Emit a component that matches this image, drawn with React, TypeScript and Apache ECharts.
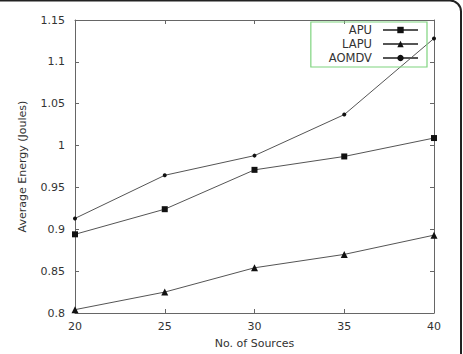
import React, { useEffect, useRef } from "react";
import * as echarts from "echarts";

const sources = [20, 25, 30, 35, 40];
const apu = [0.894, 0.924, 0.971, 0.987, 1.009];
const lapu = [0.804, 0.825, 0.854, 0.87, 0.893];
const aomdv = [0.913, 0.9645, 0.988, 1.037, 1.128];

const FONT = "DejaVu Sans";
const TXT = "#333";
const AX = "#666";

export default function App() {
  const ref = useRef<HTMLDivElement>(null);
  useEffect(() => {
    document.body.style.margin = "0";
    const chart = echarts.init(ref.current!, null, { renderer: "svg" });
    const mk = (arr: number[]) => sources.map((s, i) => [s, arr[i]]);
    const lineStyle = { color: "#555", width: 1 };
    const itemStyle = { color: "#111" };
    chart.setOption({
      animation: false,
      textStyle: { fontFamily: FONT },
      grid: { left: 75, top: 20, right: 29, bottom: 41, show: false },
      legend: {
        orient: "vertical",
        right: 36,
        top: 22,
        align: "right",
        itemWidth: 35,
        itemHeight: 8,
        itemGap: 2,
        padding: [2, 8, 3, 18],
        borderColor: "#7fd47f",
        borderWidth: 1.2,
        textStyle: { fontFamily: FONT, fontSize: 11.5, color: TXT, padding: [0, 6, 0, 0] },
        data: ["APU", "LAPU", "AOMDV"],
      },
      xAxis: [
        {
          type: "value",
          min: 20,
          max: 40,
          interval: 5,
          name: "No. of Sources",
          nameLocation: "middle",
          nameGap: 25,
          nameTextStyle: { fontSize: 11, color: TXT, fontFamily: FONT },
          axisLine: { lineStyle: { color: AX } },
          axisTick: { inside: true, length: 4, lineStyle: { color: AX } },
          axisLabel: { fontSize: 11, color: TXT, margin: 8, fontFamily: FONT },
          splitLine: { show: false },
        },
        {
          type: "value",
          position: "top",
          min: 20,
          max: 40,
          interval: 5,
          axisLine: { show: true, lineStyle: { color: AX } },
          axisTick: { inside: true, length: 4, lineStyle: { color: AX } },
          axisLabel: { show: false },
          splitLine: { show: false },
        },
      ],
      yAxis: [
        {
          type: "value",
          min: 0.8,
          max: 1.15,
          interval: 0.05,
          name: "Average Energy (Joules)",
          nameLocation: "middle",
          nameGap: 47,
          nameTextStyle: { fontSize: 11, color: TXT, fontFamily: FONT },
          axisLine: { show: true, lineStyle: { color: AX } },
          axisTick: { show: true, inside: true, length: 4, lineStyle: { color: AX } },
          axisLabel: {
            fontSize: 11,
            color: TXT,
            margin: 10,
            fontFamily: FONT,
            formatter: (v: number) => String(parseFloat(v.toFixed(2))),
          },
          splitLine: { show: false },
        },
        {
          type: "value",
          position: "right",
          min: 0.8,
          max: 1.15,
          interval: 0.05,
          axisLine: { show: true, lineStyle: { color: AX } },
          axisTick: { show: true, inside: true, length: 4, lineStyle: { color: AX } },
          axisLabel: { show: false },
          splitLine: { show: false },
        },
      ],
      series: [
        {
          name: "APU",
          type: "line",
          data: mk(apu),
          symbol: "rect",
          symbolSize: 6,
          lineStyle,
          itemStyle,
        },
        {
          name: "LAPU",
          type: "line",
          data: mk(lapu),
          symbol: "triangle",
          symbolSize: 7,
          lineStyle,
          itemStyle,
        },
        {
          name: "AOMDV",
          type: "line",
          data: mk(aomdv),
          symbol: "circle",
          symbolSize: 4,
          lineStyle,
          itemStyle,
        },
      ],
      graphic: [
        {
          type: "rect",
          shape: { x: -30, y: 0.5, width: 491, height: 400, r: 11 },
          style: { fill: "none", stroke: "#222", lineWidth: 2 },
          silent: true,
          z: 100,
        },
      ],
    });
    return () => chart.dispose();
  }, []);
  return (
    <div
      ref={ref}
      style={{ width: 463, height: 354, position: "absolute", left: 0, top: 0, background: "#fff" }}
    />
  );
}
